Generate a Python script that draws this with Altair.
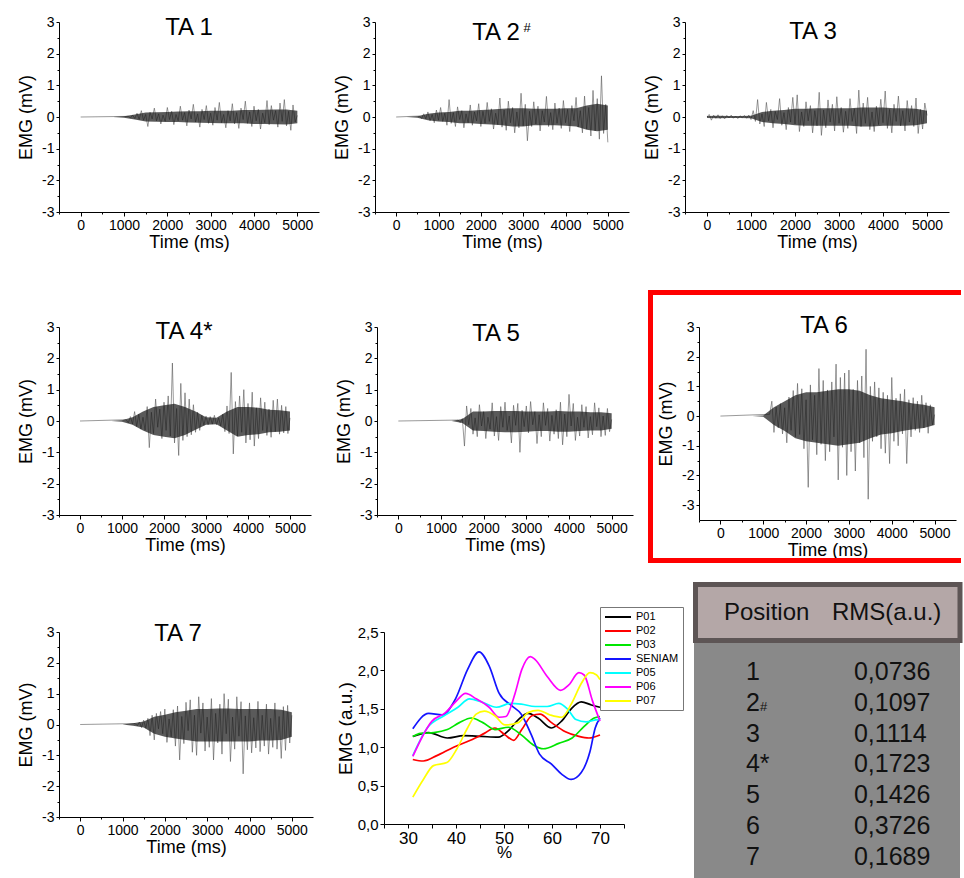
import altair as alt
import pandas as pd

FONT = "Liberation Sans"
STEP_MS = 50  # sampling step of the EMG spike traces

# ---------------- EMG traces (mV), one value every 50 ms from the onset ----------------
ta1_onset = 1100
ta1_mv = [0.02, -0.03, 0.06, -0.05, 0.12, -0.08, 0.20, -0.10, 0.08, -0.30,
          0.15, -0.06, 0.28, -0.12, 0.10, -0.22, 0.06, -0.14, 0.30, -0.08,
          0.18, -0.24, 0.08, -0.12, 0.34, -0.10, 0.14, -0.28, 0.22, -0.06,
          0.40, -0.16, 0.10, -0.32, 0.24, -0.08, 0.36, -0.20, 0.12, -0.26,
          0.30, -0.10, 0.46, -0.18, 0.08, -0.34, 0.20, -0.12, 0.42, -0.22,
          0.14, -0.36, 0.28, -0.08, 0.50, -0.20, 0.16, -0.30, 0.34, -0.12,
          0.24, -0.38, 0.12, -0.18, 0.52, -0.24, 0.36, -0.10, 0.20, -0.32,
          0.44, -0.14, 0.55, -0.28, 0.18, -0.42, 0.38, -0.16, 0.05]

ta2_onset = 550
ta2_mv = [0.03, -0.05, 0.10, -0.06, 0.16, -0.12, 0.08, -0.18, 0.22, -0.10,
          0.30, -0.14, 0.12, -0.26, 0.55, -0.20, 0.14, -0.30, 0.32, -0.08,
          0.20, -0.34, 0.10, -0.18, 0.38, -0.26, 0.16, -0.12, 0.42, -0.30,
          0.18, -0.20, 0.46, -0.14, 0.26, -0.38, 0.12, -0.24, 0.60, -0.32,
          0.22, -0.42, 0.50, -0.18, 0.30, -0.50, 0.16, -0.34, 0.75, -0.28,
          0.40, -0.75, 0.18, -0.30, 0.48, -0.22, 0.34, -0.44, 0.20, -0.16,
          0.65, -0.30, 0.14, -0.40, 0.44, -0.20, 0.28, -0.36, 0.52, -0.18,
          0.24, -0.46, 0.36, -0.12, 0.62, -0.32, 0.20, -0.50, 0.66, -0.38,
          0.30, -0.60, 0.84, -0.44, 0.58, -0.70, 1.30, -0.52, 0.40, -0.80]

ta3_onset = 0
ta3_mv = [0.00, 0.08, -0.10, 0.06, -0.04, 0.07, -0.05, 0.04, -0.06, 0.05,
          -0.03, 0.06, -0.04, 0.03, -0.05, 0.04, -0.02, 0.05, -0.04, 0.06,
          -0.08, 0.20, -0.14, 0.55, -0.22, 0.10, -0.30, 0.46, -0.12, 0.24,
          -0.34, 0.18, -0.08, 0.58, -0.26, 0.14, -0.40, 0.30, -0.16, 0.62,
          -0.22, 0.70, -0.46, 0.16, -0.30, 0.48, -0.12, 0.36, -0.50, 0.20,
          -0.28, 0.78, -0.58, 0.22, -0.34, 0.54, -0.16, 0.40, -0.44, 0.64,
          -0.20, 0.30, -0.48, 0.18, -0.36, 0.58, -0.14, 0.26, -0.52, 0.85,
          -0.30, 0.44, -0.20, 0.62, -0.40, 0.16, -0.46, 0.34, -0.24, 0.56,
          -0.18, 0.82, -0.36, 0.24, -0.50, 0.40, -0.14, 0.66, -0.28, 0.20,
          -0.44, 0.52, -0.16, 0.36, -0.30, 0.60, -0.52, 0.24, -0.38, 0.44,
          0.05]

ta4_onset = 1100
ta4_mv = [0.04, -0.06, 0.14, -0.10, 0.30, -0.18, 0.22, -0.26, 0.12, -0.30,
          0.46, -0.85, 0.28, -0.40, 0.70, -0.20, 0.38, -0.56, 0.60, -0.30,
          0.80, -0.48, 1.85, -0.70, 0.40, -1.10, 1.20, -0.62, 0.90, -0.50,
          0.70, -0.44, 0.52, -0.36, 0.28, -0.30, 0.18, -0.14, 0.16, -0.12,
          0.14, -0.10, 0.18, -0.12, 0.10, -0.16, 0.22, -0.34, 0.48, -0.40,
          1.55, -1.05, 0.62, -0.48, 0.80, -0.36, 1.00, -0.70, 0.56, -0.60,
          0.92, -0.80, 0.42, -0.56, 0.74, -0.30, 0.60, -0.46, 0.38, -0.52,
          0.66, -0.34, 0.70, -0.42, 0.50, -0.38, 0.46, -0.40, 0.10]

ta5_onset = 1400
ta5_mv = [0.03, -0.05, 0.08, -0.80, 0.48, -0.12, 0.40, -0.42, 0.10, -0.50,
          0.52, -0.16, 0.30, -0.56, 0.12, -0.26, 0.58, -0.48, 0.14, -0.62,
          0.46, -0.20, 0.60, -0.30, 0.16, -0.70, 0.50, -0.14, 0.56, -1.00,
          0.34, -0.18, 0.48, -0.38, 0.62, -0.12, 0.30, -0.72, 0.20, -0.50,
          0.58, -0.14, 0.40, -0.64, 0.18, -0.42, 0.36, -0.56, 0.60, -0.76,
          0.22, -0.50, 0.85, -0.16, 0.56, -0.62, 0.12, -0.48, 0.52, -0.20,
          0.46, -0.54, 0.14, -0.44, 0.58, -0.18, 0.42, -0.50, 0.16, -0.46,
          0.40, -0.34, 0.05]

ta6_onset = 1150
ta6_mv = [0.06, 0.50, -0.55, 0.30, -0.40, 0.42, -0.60, 0.28, -0.90, 0.64,
          -0.48, 0.86, -0.70, 1.10, -0.62, 0.92, -1.10, 0.55, -2.40, 1.05,
          -0.80, 0.70, -1.30, 1.60, -0.95, 1.20, -1.50, 0.88, -1.20, 1.15,
          -0.70, 1.75, -2.15, 1.30, -1.05, 1.45, -2.00, 1.55, -1.20, 0.90,
          -1.85, 1.20, -0.90, 1.35, -1.40, 2.25, -2.80, 1.00, -0.85, 1.15,
          -0.70, 0.95, -1.10, 0.80, -1.25, 0.70, -1.60, 1.30, -0.85, 0.60,
          -1.00, 0.75, -0.60, 0.90, -1.60, 0.55, -0.70, 0.62, -0.48, 0.50,
          -0.55, 0.70, -0.40, 0.45, -0.58, 0.38, -0.30, 0.05]

ta7_onset = 1300
ta7_mv = [0.03, -0.04, 0.08, -0.10, 0.14, -0.12, 0.20, -0.36, 0.30, -0.50,
          0.36, -0.14, 0.42, -0.30, 0.50, -0.58, 0.18, -0.40, 0.48, -0.70,
          0.60, -1.15, 0.26, -0.62, 0.72, -0.20, 0.80, -0.90, 0.30, -1.00,
          0.90, -0.28, 0.70, -0.86, 0.24, -0.74, 0.84, -1.15, 0.36, -0.60,
          0.66, -0.96, 1.00, -0.30, 0.82, -1.20, 0.24, -0.80, 0.90, -0.38,
          0.74, -1.60, 0.28, -0.82, 0.70, -0.92, 0.22, -0.76, 0.75, -0.88,
          0.30, -0.70, 0.66, -0.96, 0.20, -0.74, 0.70, -0.80, 0.26, -1.10,
          0.58, -0.84, 0.62, -0.60, 0.30]

# dense dark core of each trace (upper / lower edge, mV) read every 250 ms, 0..5000 ms
band_t = [0, 250, 500, 750, 1000, 1250, 1500, 1750, 2000, 2250, 2500,
          2750, 3000, 3250, 3500, 3750, 4000, 4250, 4500, 4750, 5000]
ta1_hi = [0, 0, 0, 0, 0.02, 0.08, 0.14, 0.15, 0.16, 0.17, 0.18, 0.18, 0.20, 0.20, 0.20, 0.22, 0.22, 0.23, 0.24, 0.24, 0.20]
ta1_lo = [0, 0, 0, 0, -0.02, -0.08, -0.14, -0.15, -0.16, -0.16, -0.17, -0.18, -0.19, -0.20, -0.20, -0.20, -0.22, -0.22, -0.23, -0.24, -0.20]
ta2_hi = [0, 0, 0.02, 0.10, 0.14, 0.16, 0.20, 0.20, 0.22, 0.24, 0.26, 0.28, 0.28, 0.26, 0.26, 0.26, 0.28, 0.28, 0.36, 0.42, 0.36]
ta2_lo = [0, 0, -0.02, -0.10, -0.14, -0.16, -0.20, -0.20, -0.22, -0.24, -0.26, -0.30, -0.30, -0.26, -0.26, -0.26, -0.28, -0.30, -0.40, -0.45, -0.40]
ta3_hi = [0.03, 0.04, 0.03, 0.03, 0.04, 0.16, 0.20, 0.22, 0.26, 0.26, 0.28, 0.28, 0.28, 0.28, 0.30, 0.30, 0.30, 0.28, 0.28, 0.26, 0.20]
ta3_lo = [-0.03, -0.04, -0.03, -0.03, -0.04, -0.16, -0.20, -0.22, -0.26, -0.28, -0.28, -0.28, -0.28, -0.28, -0.30, -0.30, -0.28, -0.28, -0.28, -0.26, -0.20]
ta4_hi = [0, 0, 0, 0, 0.02, 0.12, 0.30, 0.45, 0.50, 0.55, 0.45, 0.30, 0.12, 0.10, 0.30, 0.45, 0.45, 0.42, 0.36, 0.34, 0.30]
ta4_lo = [0, 0, 0, 0, -0.02, -0.12, -0.30, -0.45, -0.50, -0.55, -0.45, -0.28, -0.12, -0.10, -0.30, -0.50, -0.45, -0.42, -0.36, -0.34, -0.30]
ta5_hi = [0, 0, 0, 0, 0, 0, 0.06, 0.30, 0.30, 0.32, 0.32, 0.32, 0.30, 0.30, 0.30, 0.32, 0.30, 0.30, 0.28, 0.28, 0.25]
ta5_lo = [0, 0, 0, 0, 0, 0, -0.06, -0.30, -0.32, -0.34, -0.36, -0.36, -0.34, -0.32, -0.32, -0.34, -0.34, -0.32, -0.30, -0.30, -0.25]
ta6_hi = [0, 0, 0, 0, 0.02, 0.30, 0.50, 0.70, 0.80, 0.80, 0.85, 0.90, 0.90, 0.85, 0.70, 0.60, 0.55, 0.50, 0.42, 0.38, 0.30]
ta6_lo = [0, 0, 0, 0, -0.02, -0.30, -0.50, -0.75, -0.85, -0.90, -0.95, -1.00, -0.95, -0.90, -0.75, -0.62, -0.58, -0.50, -0.44, -0.40, -0.30]
ta7_hi = [0, 0, 0, 0, 0, 0.04, 0.10, 0.25, 0.32, 0.40, 0.45, 0.50, 0.50, 0.52, 0.52, 0.50, 0.50, 0.50, 0.50, 0.48, 0.40]
ta7_lo = [0, 0, 0, 0, 0, -0.04, -0.10, -0.30, -0.40, -0.45, -0.50, -0.55, -0.55, -0.55, -0.55, -0.55, -0.55, -0.52, -0.52, -0.50, -0.40]

# ---------------- normalised EMG curves (a.u.) versus % ----------------
series_names = ["P01", "P02", "P03", "SENIAM", "P05", "P06", "P07"]
series_colors = ["#000000", "#ff0000", "#00e600", "#1414ff", "#00ffff", "#ff00ff", "#ffff00"]

p01_x = [31, 34.3, 38.2, 41.6, 45.3, 48.8, 51, 53, 55, 57.1, 59.9, 62, 64, 66.1, 68.2, 70]
p01_y = [1.14, 1.19, 1.12, 1.15, 1.14, 1.13, 1.22, 1.36, 1.44, 1.38, 1.25, 1.34, 1.50, 1.59, 1.55, 1.52]
p02_x = [31, 33.2, 36, 39.5, 43, 45.9, 48.1, 50.2, 52, 53.7, 55.8, 57.5, 59.9, 62.8, 65.6, 67.7, 70]
p02_y = [0.84, 0.82, 0.89, 1.00, 1.09, 1.18, 1.25, 1.16, 1.09, 1.23, 1.41, 1.43, 1.32, 1.20, 1.14, 1.12, 1.16]
p03_x = [31, 32.6, 35.4, 38.2, 40.7, 43.2, 45.6, 48.1, 50.9, 53.6, 56.1, 58.2, 61.4, 64.2, 66.7, 68.8, 70]
p03_y = [1.14, 1.18, 1.19, 1.23, 1.32, 1.38, 1.32, 1.23, 1.26, 1.16, 1.03, 0.98, 1.05, 1.12, 1.27, 1.38, 1.40]
seniam_x = [31, 34.3, 37.1, 39.9, 42.4, 44.8, 46.9, 49, 51.6, 53.6, 55.7, 57.4, 59.9, 62, 64, 66.1, 67.9, 69, 70]
seniam_y = [1.24, 1.44, 1.42, 1.63, 2.01, 2.24, 2.06, 1.70, 1.54, 1.43, 1.16, 0.91, 0.78, 0.65, 0.58, 0.67, 0.94, 1.25, 1.38]
p05_x = [31, 34, 37.5, 40.4, 42.8, 45.3, 48.4, 51.4, 53.6, 56.5, 59, 61.4, 63.2, 65, 67.1, 69.6, 70]
p05_y = [0.89, 1.25, 1.41, 1.52, 1.63, 1.59, 1.52, 1.57, 1.56, 1.53, 1.53, 1.57, 1.50, 1.36, 1.33, 1.36, 1.36]
p06_x = [31, 35, 37.8, 39.9, 42, 44.2, 46.9, 49, 50.4, 52.3, 53.7, 55.5, 56.5, 59, 61.8, 63.5, 65.6, 66.7, 68.4, 70]
p06_y = [0.88, 1.34, 1.45, 1.59, 1.70, 1.63, 1.52, 1.39, 1.40, 1.70, 2.01, 2.18, 2.14, 1.92, 1.74, 1.81, 1.97, 1.94, 1.61, 1.34]
p07_x = [31, 33.2, 35.3, 38.1, 40.2, 42.4, 44.2, 45.9, 48.1, 50.2, 53, 55, 57.1, 59.6, 62, 64, 66.1, 67.9, 69.3, 70]
p07_y = [0.35, 0.58, 0.76, 0.80, 0.98, 1.25, 1.43, 1.47, 1.41, 1.29, 1.32, 1.45, 1.48, 1.42, 1.39, 1.56, 1.83, 1.97, 1.94, 1.88]

# ---------------- RMS table ----------------
table_header = ["Position", "RMS(a.u.)"]
positions = ["1", "2", "3", "4*", "5", "6", "7"]
position_marks = ["", "#", "", "", "", "", ""]
rms_values = [0.0736, 0.1097, 0.1114, 0.1723, 0.1426, 0.3726, 0.1689]

# =====================================================================
one_row = pd.DataFrame({"k": [0]})


def emg_panel(title, onset, values, hi, lo, w, h, ymin, tx, ty, sup=None, sup_xy=None, frame=False):
    t = ([0] if onset > 0 else []) + [onset + STEP_MS * i for i in range(len(values))]
    v = ([0.0] if onset > 0 else []) + list(values)
    df = pd.DataFrame({"t": t, "v": v})
    bdf = pd.DataFrame({"t": band_t, "hi": hi, "lo": lo})
    xs = alt.Scale(domain=[-500, 5500], nice=False, zero=False)
    ys = alt.Scale(domain=[ymin, 3], nice=False, zero=False)
    base = alt.Chart(df)
    trace = base.mark_line(color="#555555", strokeWidth=0.6).encode(
        x=alt.X("t:Q", scale=xs, axis=alt.Axis(
            values=[0, 1000, 2000, 3000, 4000, 5000], title="Time (ms)", orient="bottom",
            labelExpr="'' + datum.value", tickSize=4, labelPadding=2, labelFontSize=14,
            titleFontSize=18, titlePadding=1, labelFlush=False, labelOverlap=False)),
        y=alt.Y("v:Q", scale=ys, axis=alt.Axis(
            values=[-3, -2, -1, 0, 1, 2, 3], title="EMG (mV)", orient="left",
            labelExpr="'' + datum.value", tickSize=3, labelPadding=2, labelFontSize=14,
            titleFontSize=18, titlePadding=6, labelFlush=False, labelOverlap=False)),
    )
    core = alt.Chart(bdf).mark_area(color="#141414", opacity=0.7).encode(
        x=alt.X("t:Q", scale=xs, axis=None), y=alt.Y("hi:Q", scale=ys, axis=None), y2="lo:Q")
    minor = base.mark_line(opacity=0).encode(
        x=alt.X("t:Q", scale=xs, axis=alt.Axis(
            values=[-500, 500, 1500, 2500, 3500, 4500], labels=False, domain=False,
            tickSize=2, title=None, orient="bottom")),
        y=alt.Y("v:Q", scale=ys, axis=alt.Axis(
            values=[-2.5, -1.5, -0.5, 0.5, 1.5, 2.5], labels=False, domain=False,
            tickSize=2, title=None, orient="left")),
    )
    ttl = alt.Chart(pd.DataFrame({"s": [title]})).mark_text(
        font=FONT, fontSize=24, align="center", baseline="alphabetic", color="#000000"
    ).encode(x=alt.value(tx), y=alt.value(ty), text="s:N")
    layers = [trace, core, minor, ttl]
    if sup:
        layers.append(alt.Chart(pd.DataFrame({"s": [sup]})).mark_text(
            font=FONT, fontSize=13, align="center", baseline="alphabetic", color="#000000"
        ).encode(x=alt.value(sup_xy[0]), y=alt.value(sup_xy[1]), text="s:N"))
    if frame:
        red = dict(color="#ff0000", strokeWidth=5)
        layers.append(alt.Chart(one_row).mark_rule(**red).encode(
            x=alt.value(-48.5), y=alt.value(-37), y2=alt.value(236)))
        layers.append(alt.Chart(one_row).mark_rule(**red).encode(
            x=alt.value(-51), x2=alt.value(262), y=alt.value(-34.5)))
        layers.append(alt.Chart(one_row).mark_rule(**red).encode(
            x=alt.value(-51), x2=alt.value(262), y=alt.value(233.5)))
    return alt.layer(*layers).resolve_axis(x="independent", y="independent").properties(
        width=w, height=h)


p1 = emg_panel("TA 1", ta1_onset, ta1_mv, ta1_hi, ta1_lo, 260, 190, -3, 130, 13)
p2 = emg_panel("TA 2", ta2_onset, ta2_mv, ta2_hi, ta2_lo, 254, 190, -3, 121, 18, sup="#", sup_xy=(152, 10))
p3 = emg_panel("TA 3", ta3_onset, ta3_mv, ta3_hi, ta3_lo, 264, 190, -3, 128, 17)
p4 = emg_panel("TA 4*", ta4_onset, ta4_mv, ta4_hi, ta4_lo, 252, 188, -3, 125, 12)
p5 = emg_panel("TA 5", ta5_onset, ta5_mv, ta5_hi, ta5_lo, 256, 188, -3, 119, 14)
p6 = emg_panel("TA 6", ta6_onset, ta6_mv, ta6_hi, ta6_lo, 257, 193, -3.5, 125, 6, frame=True)
p7 = emg_panel("TA 7", ta7_onset, ta7_mv, ta7_hi, ta7_lo, 254, 185, -3, 119, 9)

# ---------------- line chart ----------------
curve_x = [p01_x, p02_x, p03_x, seniam_x, p05_x, p06_x, p07_x]
curve_y = [p01_y, p02_y, p03_y, seniam_y, p05_y, p06_y, p07_y]
rows = []
for name, xs_, ys_ in zip(series_names, curve_x, curve_y):
    for a, b in zip(xs_, ys_):
        rows.append({"series": name, "pct": a, "emg": b})
lc_df = pd.DataFrame(rows)

# the legend of a concatenated view is placed from the top-left plot's origin
line_chart = alt.Chart(lc_df).mark_line(strokeWidth=1.7, interpolate="monotone").encode(
    x=alt.X("pct:Q", scale=alt.Scale(domain=[25, 75], nice=False, zero=False), axis=alt.Axis(
        values=[25, 30, 35, 40, 45, 50, 55, 60, 65, 70, 75], title="%",
        labelExpr="datum.value % 10 == 0 ? datum.label : ''", tickSize=4, labelPadding=2,
        labelFontSize=17, titleFontSize=17, titlePadding=-2, labelFlush=False,
        labelOverlap=False)),
    y=alt.Y("emg:Q", scale=alt.Scale(domain=[0, 2.5], nice=False, zero=False), axis=alt.Axis(
        values=[0, 0.5, 1.0, 1.5, 2.0, 2.5], title="EMG (a.u.)",
        labelExpr="replace(format(datum.value, '.1f'), '.', ',')", tickSize=4, labelPadding=2,
        labelFontSize=15, titleFontSize=19, titlePadding=2, labelFlush=False,
        labelOverlap=False)),
    color=alt.Color("series:N", scale=alt.Scale(domain=series_names, range=series_colors),
                    legend=alt.Legend(orient="none", legendX=541, legendY=585, title=None,
                                      fillColor="#ffffff", strokeColor="#777777", padding=4,
                                      labelFont=FONT, labelFontSize=11, labelColor="#000000",
                                      symbolType="M-1,0H4.2", symbolSize=100,
                                      symbolStrokeWidth=2, labelOffset=20, rowPadding=3)),
).properties(width=240, height=192)

# ---------------- table ----------------
tdf = pd.DataFrame({"row": list(range(1, len(positions) + 1)), "pos": positions,
                    "mark": position_marks,
                    "rms": [("%.4f" % r).replace(".", ",") for r in rms_values]})
hdf = pd.DataFrame({"h": table_header, "col": [0, 1]})
tx_scale = alt.Scale(domain=[-0.472, 2.019], nice=False, zero=False)
ty_scale = alt.Scale(domain=[-0.558, 7.526], nice=False, zero=False, reverse=True)

body = alt.Chart(one_row).mark_rect(fill="#898989").encode(
    x=alt.value(-1), x2=alt.value(265), y=alt.value(11), y2=alt.value(247))
head = alt.Chart(one_row).mark_rect(fill="#b4a7a7", stroke="#5d5555", strokeWidth=5).encode(
    x=alt.value(0.5), x2=alt.value(265), y=alt.value(-47.5), y2=alt.value(8.5))
head_txt = alt.Chart(hdf).mark_text(font=FONT, fontSize=24, align="left", baseline="alphabetic",
                                    dx=-22, color="#111111").encode(
    x=alt.X("col:Q", scale=tx_scale, axis=None),
    y=alt.YDatum(-0.95, type="quantitative", scale=ty_scale, axis=None),
    text="h:N")
pos_txt = alt.Chart(tdf).mark_text(font=FONT, fontSize=25, align="left", baseline="alphabetic",
                                   color="#111111").encode(
    x=alt.XDatum(0, type="quantitative", scale=tx_scale, axis=None),
    y=alt.Y("row:Q", scale=ty_scale, axis=None), text="pos:N")
mark_txt = alt.Chart(tdf).mark_text(font=FONT, fontSize=13, align="left", baseline="alphabetic",
                                    dx=14, color="#111111").encode(
    x=alt.XDatum(0, type="quantitative", scale=tx_scale, axis=None),
    y=alt.Y("row:Q", scale=ty_scale, axis=None), text="mark:N")
rms_txt = alt.Chart(tdf).mark_text(font=FONT, fontSize=25, align="left", baseline="alphabetic",
                                   color="#111111").encode(
    x=alt.XDatum(1, type="quantitative", scale=tx_scale, axis=None),
    y=alt.Y("row:Q", scale=ty_scale, axis=None), text="rms:N")
table = alt.layer(body, head, head_txt, pos_txt, mark_txt, rms_txt).properties(width=269, height=249)

row1 = alt.hconcat(p1, p2, p3, spacing=56, bounds="flush")
row2 = alt.hconcat(p4, p5, p6, spacing=66, bounds="flush")
row3 = alt.hconcat(p7, line_chart, table, spacing=71, bounds="flush")

upper = alt.vconcat(row1, row2, spacing=36)
chart = alt.vconcat(upper, row3, spacing=16).properties(
    padding={"left": 17, "top": 15, "right": 0, "bottom": 0},
    background="#ffffff",
).configure_view(stroke=None).configure_axis(
    grid=False, domainColor="#000000", tickColor="#000000", labelColor="#000000",
    titleColor="#000000", labelFont=FONT, titleFont=FONT, titleFontWeight="normal",
    domainWidth=1, tickWidth=1,
).configure_text(font=FONT)

chart.save("out.html", embed_options={"renderer": "svg", "actions": False})
